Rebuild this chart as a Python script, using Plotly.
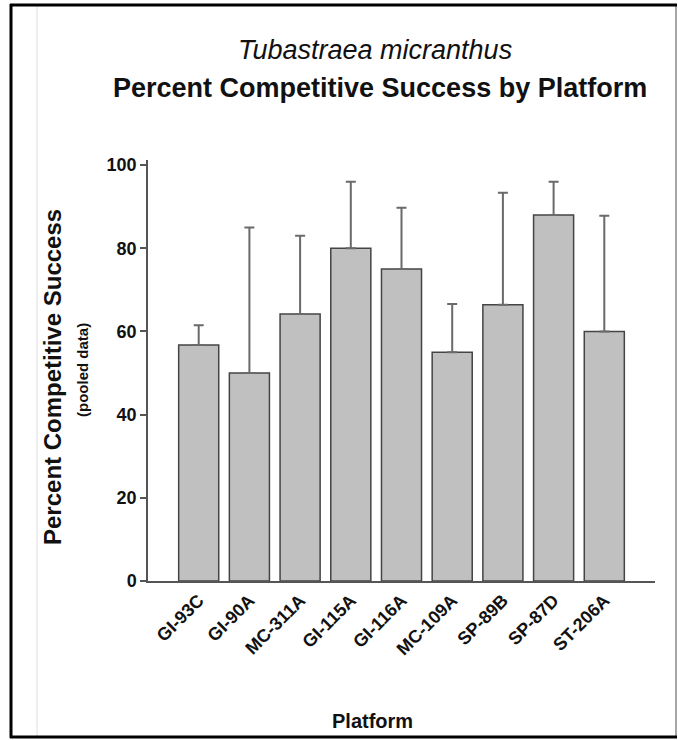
import plotly.graph_objects as go

# Pooled competitive-success data per platform
platforms = ["GI-93C", "GI-90A", "MC-311A", "GI-115A", "GI-116A",
             "MC-109A", "SP-89B", "SP-87D", "ST-206A"]
success_pct = [56.7, 50.0, 64.2, 80.0, 75.0, 55.0, 66.4, 88.0, 60.0]
error_upper = [4.8, 35.0, 18.8, 16.0, 14.7, 11.6, 26.9, 8.0, 27.8]
y_ticks = [0, 20, 40, 60, 80, 100]

W, H = 678, 740
PLOT_L, PLOT_R, PLOT_T, PLOT_B = 148, 655, 160, 581
FONT = "Liberation Sans, Arial, sans-serif"


def px_x(px):
    return (px - PLOT_L) / (PLOT_R - PLOT_L)


def px_y(py):
    return (PLOT_B - py) / (PLOT_B - PLOT_T)


fig = go.Figure(
    go.Bar(
        x=platforms,
        y=success_pct,
        width=0.79,
        marker=dict(color="#c0c0c0", line=dict(color="#444444", width=1.5)),
        error_y=dict(type="data", symmetric=False, array=error_upper,
                     arrayminus=[0] * len(error_upper),
                     color="#6a6a6a", thickness=2, width=5),
    )
)

fig.update_layout(
    width=W, height=H,
    margin=dict(l=PLOT_L, r=W - PLOT_R, t=PLOT_T, b=H - PLOT_B, pad=0),
    paper_bgcolor="white", plot_bgcolor="white",
    showlegend=False,
    font=dict(family=FONT, color="#111"),
    xaxis=dict(
        type="category", range=[-1, 9],
        showline=True, linecolor="#555", linewidth=1.5,
        ticks="", showgrid=False, zeroline=False,
        tickangle=-45,
        tickfont=dict(family=FONT, size=18, color="#111", weight="bold"),
    ),
    yaxis=dict(
        range=[0, 101.2], tickvals=y_ticks,
        showline=True, linecolor="#555", linewidth=1.5,
        ticks="outside", ticklen=6, tickwidth=1.5, tickcolor="#555",
        showgrid=False, zeroline=False,
        tickfont=dict(family=FONT, size=18, color="#111", weight="bold"),
    ),
)

annotations = [
    dict(text="<i>Tubastraea micranthus</i>", x=px_x(375), y=px_y(50),
         font=dict(size=27, family=FONT, color="#111")),
    dict(text="<b>Percent Competitive Success by Platform</b>", x=px_x(380), y=px_y(88),
         font=dict(size=27, family=FONT, color="#111")),
    dict(text="<b>Percent Competitive Success</b>", x=px_x(52), y=px_y(377),
         textangle=-90, font=dict(size=24, family=FONT, color="#111")),
    dict(text="<b>(pooled data)</b>", x=px_x(82), y=px_y(370),
         textangle=-90, font=dict(size=15, family=FONT, color="#111")),
    dict(text="<b>Platform</b>", x=px_x(372), y=px_y(721),
         font=dict(size=20, family=FONT, color="#111")),
]
for a in annotations:
    a.update(xref="paper", yref="paper", xanchor="center", yanchor="middle",
             showarrow=False)
fig.update_layout(annotations=annotations)

# Frame around the figure and the faint guide line on the left
fig.update_layout(shapes=[
    dict(type="line", xref="paper", yref="paper",
         x0=px_x(37), x1=px_x(37), y0=px_y(5), y1=px_y(737),
         line=dict(color="#dddddd", width=1)),
    dict(type="line", xref="paper", yref="paper",
         x0=px_x(676), x1=px_x(676), y0=px_y(5), y1=px_y(737),
         line=dict(color="#888888", width=1.5)),
    dict(type="line", xref="paper", yref="paper",
         x0=px_x(11), x1=px_x(11), y0=px_y(4), y1=px_y(738),
         line=dict(color="black", width=3)),
    dict(type="line", xref="paper", yref="paper",
         x0=px_x(10), x1=px_x(677), y0=px_y(5), y1=px_y(5),
         line=dict(color="black", width=3)),
    dict(type="line", xref="paper", yref="paper",
         x0=px_x(10), x1=px_x(677), y0=px_y(737), y1=px_y(737),
         line=dict(color="black", width=3)),
])

fig.write_html("out.html")
